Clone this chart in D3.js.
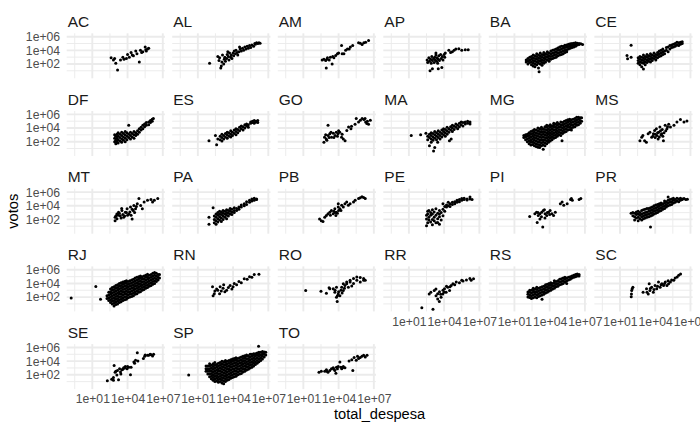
<!DOCTYPE html>
<html>
<head>
<meta charset="utf-8">
<script src="https://cdn.jsdelivr.net/npm/d3@7"></script>
<style>
  body { margin: 0; background: #fff; }
  text { font-family: "Liberation Sans", Arial, Helvetica, sans-serif; }
</style>
</head>
<body>
<svg id="chart" width="700" height="432"></svg>
<script>
// values, as log10 exponents.
// each row: [log10(total_despesa), log10(votos), log10(votos), ...]
const AC = [[2.6,2.9],[2.8,2.6],[2.9,2.8],[3.0,2.1],[3.15,1.1],[3.4,2.6],[3.6,3.0],[3.7,2.7],[3.9,2.8],[4.0,3.4],[4.15,3.0],[4.3,3.7],[4.4,3.3],[4.5,3.2],[4.7,3.9],[4.8,3.5],[5.0,2.3],[5.1,4.0],[5.2,3.7],[5.3,3.8],[5.5,4.5],[5.55,4.1],[5.6,3.9],[5.7,4.2],[5.8,4.3]];
const AL = [[2.0,2.1],[2.7,3.1],[2.8,2.5],[2.85,2.9],[2.95,1.4],[3.0,1.7],[3.05,2.3],[3.1,3.3],[3.2,2.0],[3.25,2.7],[3.3,3.0],[3.35,2.4],[3.45,2.8],[3.5,3.4],[3.55,3.8],[3.6,3.1],[3.65,2.6],[3.7,3.6],[3.8,3.0],[3.85,3.3],[3.9,2.8],[4.0,3.6],[4.05,3.2],[4.1,3.9],[4.2,3.5],[4.25,4.0],[4.35,3.7],[4.4,3.3],[4.5,3.8],[4.55,4.5],[4.6,4.2],[4.7,3.9],[4.8,4.3],[4.9,4.0],[5.0,4.5],[5.1,4.2],[5.2,4.6],[5.3,4.3],[5.4,4.7],[5.5,4.4],[5.6,4.8],[5.75,4.6],[5.85,5.0],[5.9,4.9],[6.0,5.1],[6.1,5.0],[6.2,5.1],[6.3,5.05]];
const AM = [[2.6,2.6],[2.75,2.7],[2.9,2.5],[2.95,1.4],[3.0,2.7],[3.05,2.9],[3.2,2.6],[3.3,3.0],[3.45,2.0],[3.5,3.1],[3.6,2.9],[3.75,3.25],[3.9,3.5],[4.0,3.6],[4.25,4.7],[4.3,3.5],[4.45,3.5],[4.6,4.0],[4.75,4.2],[4.9,4.2],[5.0,4.5],[5.2,4.7],[5.7,5.1],[5.85,5.05],[6.0,4.85],[6.15,5.1],[6.3,5.2],[6.55,5.45]];
const AP = [[2.55,2.6],[2.6,2.2],[2.7,2.9],[2.75,2.4],[2.8,1.0],[2.85,2.7],[2.9,2.1],[2.95,3.1],[3.0,1.3,2.5],[3.1,2.8],[3.15,2.2],[3.2,3.0],[3.25,2.6],[3.3,3.3,3.6],[3.35,2.4],[3.4,2.9],[3.45,2.1],[3.5,1.3,2.7],[3.55,3.2],[3.6,2.5],[3.7,3.4],[3.75,2.8],[3.8,1.5],[3.85,3.1],[3.9,2.6],[4.0,3.4],[4.05,3.0],[4.1,3.6],[4.4,4.0],[4.55,3.7],[4.7,3.8],[4.85,4.0],[5.0,4.2],[5.25,4.25],[5.5,4.0],[5.8,4.1],[6.05,4.1]];
const BA = [[2.0,2.3,2.6],[2.15,2.0,2.4,2.8],[2.3,2.2,2.6,3.0],[2.45,1.9,2.3,2.7,3.1],[2.6,1.7,2.1,2.5,2.9,3.3],[2.75,1.6,2.0,2.4,2.8,3.2],[2.9,1.9,2.3,2.7,3.1,3.5],[3.05,1.4,2.1,2.5,2.9,3.3],[3.1,0.85],[3.2,2.0,2.4,2.8,3.2,3.6],[3.35,1.8,2.2,2.6,3.0,3.4],[3.5,2.1,2.5,2.9,3.3,3.7],[3.65,2.3,2.7,3.1,3.5],[3.8,2.6,3.0,3.4,3.8],[3.95,2.4,2.8,3.2,3.6],[4.1,2.7,3.1,3.5,3.9],[4.25,2.8,3.2,3.6,4.0],[4.4,2.9,3.3,3.7,4.1],[4.55,3.0,3.4,3.8,4.2],[4.7,3.2,3.6,4.0,4.35],[4.85,3.3,3.7,4.1,4.5],[5.0,3.4,3.8,4.2,4.6],[5.15,3.5,3.9,4.3,4.6],[5.3,3.7,4.0,4.4,4.75],[5.45,3.8,4.1,4.5,4.8],[5.6,4.2,4.55,4.9],[5.75,4.3,4.65,4.95],[5.9,4.4,4.7,5.0],[6.05,4.5,4.8,5.05],[6.2,4.6,4.85,5.1],[6.35,4.8,5.05],[6.5,4.85,5.0],[6.65,4.95],[6.8,4.85]];
const CE = [[1.6,3.25],[1.65,2.75],[1.95,3.0,4.75],[2.55,2.1,2.5,2.9],[2.7,1.9,2.3,2.7,3.1],[2.85,1.6,2.2,2.6,3.0],[3.0,1.25,2.1,2.5,2.9,3.3],[3.15,1.9,2.3,2.7,3.1],[3.3,2.2,2.6,3.0,3.4],[3.45,2.4,2.8,3.2],[3.6,2.3,2.7,3.1,3.5],[3.75,2.5,2.9,3.3],[3.9,2.8,3.2,3.6],[4.05,2.6,3.0,3.4],[4.2,2.9,3.3,3.7],[4.35,3.1,3.5,3.9],[4.5,3.2,3.6,4.0],[4.65,3.4,3.8,4.2],[4.8,3.5,3.9],[4.95,4.0,4.4],[5.1,3.8,4.5],[5.25,4.2,4.7],[5.4,4.4,4.8],[5.55,4.5,4.9],[5.7,4.6,5.0],[5.85,4.8,5.2],[6.0,4.7,5.1],[6.15,4.9,5.2],[6.3,5.0,5.25]];
const DF = [[2.9,2.0,2.5,3.0],[3.0,1.7,2.2,2.8],[3.1,2.0,2.5,3.1],[3.2,1.8,2.3,2.8,3.3],[3.35,2.1,2.6,3.1],[3.5,1.9,2.4,2.9,3.4],[3.65,2.2,2.7,3.2],[3.8,2.0,2.5,3.0,3.5],[3.95,2.3,2.8,3.3],[4.1,2.6,3.1,4.4],[4.25,2.4,2.9,3.4],[4.4,2.7,3.2],[4.55,2.5,3.0,3.5],[4.7,2.9,3.3],[4.85,3.1,3.6],[5.0,3.4,3.9],[5.15,3.7,4.1],[5.3,3.9,4.4],[5.45,4.2,4.6],[5.6,4.4,4.8],[5.8,4.5,4.9],[5.95,4.8,5.1],[6.1,5.0,5.3],[6.2,5.4]];
const ES = [[1.95,2.15],[2.5,2.9],[2.6,1.55],[2.7,2.4],[2.9,2.3,2.8],[3.05,2.1,2.6,3.1],[3.2,2.4,2.9],[3.35,2.7,3.2],[3.5,2.5,3.0,3.4],[3.65,2.8,3.3],[3.8,2.7,3.1,3.6],[3.95,2.9,3.4],[4.1,3.2,3.7],[4.25,3.0,3.5,3.9],[4.4,3.3,3.8],[4.55,3.6,4.1],[4.7,3.9,4.3],[4.85,3.7,4.2],[5.0,4.0,4.5],[5.15,4.3,4.6],[5.3,4.1,4.5],[5.5,4.7,4.9],[5.65,4.8,5.0],[5.8,4.7,5.1],[5.95,4.9,5.0],[6.1,4.8,5.1]];
const GO = [[2.75,1.9],[2.8,2.65],[2.9,3.0],[2.95,2.4],[3.0,2.2],[3.1,2.9,4.4],[3.2,2.6],[3.25,3.15],[3.35,3.4],[3.4,2.65],[3.55,3.25],[3.6,2.6],[3.7,2.9],[3.8,3.4],[3.9,2.8],[3.95,3.15],[4.0,3.6],[4.1,3.4],[4.25,2.65],[4.3,3.1],[4.4,2.4],[4.55,2.15],[4.7,3.65],[4.85,4.15],[5.05,3.9],[5.1,4.25],[5.4,4.55],[5.5,5.4],[5.7,4.9],[5.85,5.15],[6.0,5.4],[6.15,5.25],[6.25,5.4],[6.3,4.9],[6.4,4.65],[6.45,5.0],[6.55,4.55],[6.7,5.15]];
const MA = [[1.2,2.9],[2.0,3.0],[2.45,3.25],[2.6,2.3,2.8],[2.75,1.4,2.6,3.1],[2.9,1.9,2.4,2.9,3.3],[3.05,2.2,2.7,3.2],[3.1,0.65],[3.2,1.15,2.5,3.0,3.5],[3.35,2.3,2.8,3.3],[3.45,1.9],[3.5,2.6,3.1,3.6],[3.65,2.4,2.9,3.4],[3.8,2.7,3.2,3.7],[3.95,3.0,3.5,3.9],[4.1,2.8,3.3,3.8],[4.25,3.1,3.6,4.1],[4.4,3.4,3.9],[4.45,2.15],[4.55,3.7,4.2],[4.6,2.4],[4.7,3.5,4.0,4.4],[4.85,3.8,4.3],[5.0,4.1,4.6],[5.15,3.9,4.4],[5.3,4.2,4.7],[5.45,4.5,4.9],[5.6,4.3,4.8],[5.8,4.6,4.9],[6.0,4.7,5.0],[6.2,4.6,4.9]];
const MG = [[1.8,2.6,2.9],[1.95,2.3,2.7,3.0],[2.1,2.0,2.4,2.8,3.1],[2.25,1.7,2.1,2.5,2.9,3.3],[2.4,1.5,1.9,2.3,2.7,3.1,3.5],[2.55,1.6,2.0,2.4,2.8,3.2,3.6],[2.7,1.4,1.8,2.2,2.6,3.0,3.4,3.8],[2.85,1.3,1.7,2.1,2.5,2.9,3.3,3.7],[3.0,1.2,1.6,2.0,2.4,2.8,3.2,3.6,4.0],[3.15,1.15,1.5,1.9,2.3,2.7,3.1,3.5,3.9],[3.3,1.4,1.8,2.2,2.6,3.0,3.4,3.8,4.1],[3.45,0.9,1.5,1.9,2.3,2.7,3.1,3.5,3.9],[3.6,1.4,1.8,2.2,2.6,3.0,3.4,3.8,4.2],[3.75,1.7,2.1,2.5,2.9,3.3,3.7,4.1,4.4],[3.9,1.9,2.3,2.7,3.1,3.5,3.9,4.3],[4.05,2.1,2.5,2.9,3.3,3.7,4.1,4.5],[4.2,2.3,2.7,3.1,3.5,3.9,4.3],[4.35,2.5,2.9,3.3,3.7,4.1,4.5,4.7],[4.5,2.6,3.0,3.4,3.8,4.2,4.6],[4.65,2.8,3.2,3.6,4.0,4.4,4.8],[4.8,3.0,3.4,3.8,4.2,4.6],[4.95,2.9,3.3,3.7,4.1,4.5,4.9],[5.05,2.15],[5.1,3.2,3.6,4.0,4.4,4.8],[5.25,3.4,3.8,4.2,4.6,5.0],[5.4,3.5,3.9,4.3,4.7,5.1],[5.55,3.7,4.1,4.5,4.9,5.2],[5.7,3.8,4.2,4.6,5.0,5.3],[5.85,3.7,4.0,4.4,4.8,5.2],[6.0,4.1,4.5,4.9,5.3],[6.15,4.2,4.6,5.0,5.4],[6.3,4.4,4.8,5.2,5.6],[6.45,4.5,4.9,5.3,5.6],[6.6,4.7,5.1,5.5],[6.72,5.0,5.5]];
const MS = [[2.7,2.15],[2.85,2.65],[2.95,2.9],[3.1,2.15],[3.25,1.9],[3.4,3.15],[3.55,3.4],[3.7,2.65],[3.8,2.8],[3.85,3.15],[3.95,3.65],[4.0,2.6,3.1],[4.1,3.9],[4.15,2.9],[4.2,3.3],[4.25,2.4],[4.3,3.4],[4.35,2.7],[4.4,4.15],[4.45,3.6],[4.5,3.0],[4.55,3.15],[4.6,3.8],[4.65,2.8],[4.7,2.15],[4.75,3.3],[4.85,4.4],[4.9,3.6],[5.0,3.9],[5.05,4.2],[5.15,4.55],[5.3,4.15],[5.6,4.4],[5.85,4.9],[6.15,5.25],[6.45,4.9],[6.7,5.05]];
const MT = [[2.94,1.8,2.3],[3.0,2.5],[3.09,2.8],[3.1,2.1],[3.2,2.6],[3.23,3.05],[3.3,2.9],[3.38,2.55],[3.45,2.2],[3.5,3.6],[3.52,3.3],[3.6,2.7],[3.67,2.3],[3.75,2.5],[3.81,3.05],[3.9,3.0],[3.96,3.55],[4.0,2.6],[4.1,2.8],[4.2,3.1],[4.25,3.8],[4.3,2.6],[4.39,2.05],[4.4,3.5],[4.48,3.3],[4.54,4.05],[4.6,3.0],[4.68,3.55],[4.75,3.9],[4.83,4.3],[4.97,5.05],[5.12,4.05],[5.26,3.55],[5.41,4.55],[5.7,4.8],[5.99,4.9],[6.13,4.55],[6.28,4.8],[6.57,5.05]];
const PA = [[1.95,1.3,2.3],[2.3,3.7],[2.4,1.5,2.0,2.5],[2.55,1.3,1.8,2.3,2.8],[2.7,1.6,2.1,2.6,3.0],[2.85,1.9,2.4,2.8,3.2],[3.0,1.7,2.2,2.7,3.1],[3.15,2.0,2.5,2.9,3.3],[3.3,2.3,2.8,3.2],[3.45,2.1,2.6,3.0,3.4],[3.6,2.5,2.9,3.3],[3.75,2.8,3.2,3.6],[3.9,2.7,3.1,3.5],[4.1,3.0,3.3,3.7],[4.3,3.3,3.6],[4.5,3.5,3.8],[4.7,3.8,4.1],[4.95,4.0,4.3],[5.15,4.2,4.6],[5.4,4.5,4.8],[5.6,4.7,5.0],[5.8,4.8,5.1],[6.0,4.9,5.0]];
const PB = [[2.38,2.06],[2.53,1.8],[2.67,1.7],[2.82,2.3],[2.96,2.56],[3.1,2.81],[3.25,3.05],[3.3,2.6],[3.39,3.31],[3.54,2.81],[3.6,3.2],[3.68,3.56],[3.7,3.0],[3.77,2.56],[3.82,3.05],[3.9,2.9],[3.97,3.81,4.31],[4.0,3.3],[4.11,3.56],[4.2,3.3],[4.26,4.06],[4.4,3.81],[4.54,4.31],[4.69,4.56],[4.83,4.06],[4.98,4.31],[5.27,4.56],[5.41,4.81],[5.7,5.07],[5.84,5.16],[5.99,5.31],[6.13,5.21],[6.27,5.07]];
const PE = [[2.5,1.05,2.05,2.6],[2.6,1.5,2.8,3.2],[2.7,1.9,2.3,3.3],[2.85,1.6,2.6,3.0],[3.0,1.2,2.0,2.8,3.4],[3.15,1.8,2.3,3.1],[3.3,1.5,2.6,3.55],[3.45,1.55,2.1,2.9],[3.6,1.3,2.4,2.8,3.3],[3.75,1.9,3.0],[3.9,2.55,3.5,4.3],[4.05,3.2,3.9],[4.2,3.8,4.1],[4.35,4.0,4.5],[4.5,3.9,4.3],[4.7,4.2,4.5],[4.9,4.3,4.6],[5.1,4.5,4.8],[5.3,4.6,4.9],[5.5,4.8,5.05],[5.7,4.9,5.1],[5.95,4.85,5.0],[6.2,5.0,5.3],[6.38,4.9]];
const PI = [[2.3,2.41],[2.74,2.81],[2.88,3.05],[2.94,1.55],[3.0,3.0],[3.03,2.56],[3.17,2.06,2.81],[3.3,2.4],[3.32,3.05],[3.41,0.9],[3.46,3.31],[3.55,3.4],[3.6,2.2],[3.61,2.81],[3.75,2.56],[3.8,3.0],[3.9,3.05],[4.0,2.7],[4.04,3.31],[4.19,2.81],[4.33,2.56],[4.48,3.05],[4.91,4.31],[5.06,4.56],[5.2,4.06],[5.49,4.31],[5.78,4.92],[5.85,5.05],[5.93,4.81],[6.51,4.92],[6.65,5.07]];
const PR = [[1.95,2.9],[2.1,2.55,3.0],[2.25,1.9,2.4,2.9],[2.4,2.2,2.7,3.1],[2.55,1.8,2.3,2.8,3.2],[2.7,2.1,2.6,3.0],[2.85,1.9,2.4,2.8,3.3],[3.0,2.1,2.5,2.9,3.4],[3.15,2.2,2.6,3.0,3.5],[3.3,2.3,2.7,3.1,3.6],[3.45,2.4,2.8,3.2,3.6],[3.6,0.9,2.5,2.9,3.3,3.7],[3.75,2.6,3.0,3.4,3.8],[3.9,2.8,3.2,3.6,4.0],[4.05,2.9,3.3,3.7,4.1],[4.2,3.0,3.4,3.8,4.2],[4.35,3.2,3.6,4.0,4.3],[4.5,3.3,3.7,4.1,4.4],[4.65,3.5,3.9,4.3],[4.8,3.6,4.0,4.4,4.7],[4.95,3.8,4.2,4.6],[5.1,4.0,4.4,4.8,5.3],[5.25,4.1,4.5,4.9],[5.4,4.2,4.6,5.0],[5.55,4.4,4.8,5.1],[5.7,4.5,4.9],[5.85,4.7,5.1],[6.0,4.6,5.0],[6.15,4.8,5.1],[6.3,4.9,5.0],[6.45,5.05],[6.6,4.9],[6.74,4.95]];
const RJ = [[-0.8,1.85],[1.3,3.55],[1.7,1.7],[2.25,1.8,2.2],[2.4,1.5,1.9,2.3,2.7],[2.55,1.2,1.6,2.0,2.4,2.8,3.2],[2.7,1.0,1.4,1.8,2.2,2.6,3.0,3.4],[2.85,0.7,1.1,1.5,1.9,2.3,2.7,3.1,3.5],[3.0,0.9,1.3,1.7,2.1,2.5,2.9,3.3,3.7],[3.15,1.0,1.4,1.8,2.2,2.6,3.0,3.4,3.8],[3.3,1.2,1.6,2.0,2.4,2.8,3.2,3.6,4.0],[3.45,1.3,1.7,2.1,2.5,2.9,3.3,3.7,4.1],[3.6,1.5,1.9,2.3,2.7,3.1,3.5,3.9,4.2],[3.75,1.6,2.0,2.4,2.8,3.2,3.6,4.0,4.3],[3.9,1.7,2.1,2.5,2.9,3.3,3.7,4.1,4.4],[4.05,1.9,2.3,2.7,3.1,3.5,3.9,4.3],[4.2,2.0,2.4,2.8,3.2,3.6,4.0,4.4],[4.35,2.1,2.5,2.9,3.3,3.7,4.1,4.5],[4.5,2.2,2.6,3.0,3.4,3.8,4.2,4.6],[4.65,2.4,2.8,3.2,3.6,4.0,4.4,4.8],[4.8,2.5,2.9,3.3,3.7,4.1,4.5,4.9],[4.95,2.7,3.1,3.5,3.9,4.3,4.7,5.0],[5.1,2.8,3.2,3.6,4.0,4.4,4.8,5.1],[5.25,3.0,3.4,3.8,4.2,4.6,5.0],[5.4,3.1,3.5,3.9,4.3,4.7,5.1],[5.55,3.3,3.7,4.1,4.5,4.9,5.2],[5.7,3.4,3.8,4.2,4.6,5.0,5.35],[5.85,3.6,4.0,4.4,4.8,5.2],[6.0,3.7,4.1,4.5,4.9,5.3],[6.15,3.9,4.3,4.7,5.1,5.5],[6.3,4.0,4.4,4.8,5.2,5.6],[6.45,4.3,4.7,5.1,5.5],[6.6,4.5,4.9,5.3],[6.72,4.8,5.3]];
const RN = [[2.25,3.5],[2.3,2.2],[2.4,2.5],[2.45,2.9],[2.6,3.2],[2.7,3.0],[2.85,2.5],[2.9,3.5],[3.0,2.9],[3.15,3.3],[3.2,3.8],[3.3,2.8],[3.45,3.0],[3.6,3.4],[3.75,3.7],[3.9,3.2],[4.0,3.5],[4.1,4.0],[4.3,3.8],[4.5,4.3],[4.7,4.1],[4.95,4.7],[5.2,4.6],[5.4,5.0],[5.6,4.9],[5.8,5.3],[6.2,5.35]];
const RO = [[1.2,2.96],[2.5,2.86],[2.96,2.56],[3.19,3.36],[3.25,3.21],[3.54,3.21],[3.68,2.71],[3.7,3.0],[3.82,1.96,3.46],[3.88,1.36],[3.9,2.2],[3.97,2.46],[4.0,2.8],[4.11,2.21],[4.2,3.0],[4.26,3.46],[4.3,2.6],[4.4,2.96,3.97],[4.5,3.3],[4.54,3.71],[4.69,3.97,4.21],[4.83,3.46],[4.98,4.21,4.47],[5.12,3.61],[5.27,4.01,4.72],[5.55,4.47,4.96],[5.84,4.21,4.87],[6.13,4.47,4.72],[6.27,4.47]];
const RR = [[2.1,0.45],[2.73,2.46],[2.87,2.71],[3.05,0.2],[3.16,2.96],[3.3,3.2],[3.31,2.21],[3.45,1.71,2.5],[3.59,1.36],[3.6,2.8],[3.7,2.4],[3.74,1.96],[3.88,2.46],[3.9,3.0],[4.0,2.7],[4.03,3.21],[4.17,2.71],[4.2,3.6],[4.31,3.46],[4.46,2.96],[4.5,3.5],[4.6,3.71],[4.75,3.97],[4.9,3.8],[5.03,4.21],[5.3,4.1],[5.5,4.47],[5.61,4.36],[5.9,4.5],[6.19,4.72],[6.3,4.47],[6.5,4.7]];
const RS = [[2.15,2.0,2.4,2.75],[2.3,1.95,2.3,2.7,3.0],[2.45,1.8,2.2,2.6,3.0],[2.6,1.9,2.3,2.7,3.0,3.3],[2.75,2.0,2.4,2.8,3.2],[2.9,1.9,2.3,2.7,3.1,3.45],[3.05,2.1,2.5,2.9,3.3],[3.2,2.2,2.6,3.0,3.4],[3.35,1.7,2.3,2.7,3.1,3.5],[3.5,2.4,2.8,3.2,3.6],[3.65,2.6,3.0,3.4,3.8],[3.8,2.7,3.1,3.5,3.9],[3.95,2.9,3.3,3.7,4.0],[4.1,3.0,3.4,3.8,4.1],[4.25,3.2,3.6,4.0],[4.4,3.3,3.7,4.1,4.4],[4.55,3.5,3.9,4.3],[4.7,3.6,4.0,4.4],[4.85,3.8,4.2,4.6],[5.0,3.9,4.3,4.7],[5.15,4.0,4.4,4.8],[5.3,4.2,4.6,4.9],[5.45,4.0,4.4,4.8],[5.6,4.5,4.9],[5.75,4.6,5.0],[5.9,4.8,5.1],[6.05,4.9,5.2],[6.2,5.0,5.3],[6.35,5.1,5.4],[6.5,5.1,5.3]];
const SC = [[1.96,2.06],[1.98,2.46],[2.0,2.96],[2.04,3.21],[2.1,3.46],[2.97,2.71],[3.26,3.21],[3.3,2.7],[3.41,2.46],[3.49,3.97],[3.55,2.96],[3.6,3.3],[3.7,3.46],[3.84,2.71],[3.9,3.1],[3.99,3.71],[4.13,3.21],[4.2,3.6],[4.28,4.22],[4.42,3.46],[4.5,3.8],[4.57,3.97],[4.71,3.71],[4.8,4.0],[4.86,4.22],[5.0,3.71],[5.1,4.4],[5.14,3.97],[5.29,4.22],[5.4,4.5],[5.58,4.47],[5.7,4.8],[5.87,4.96],[6.0,5.22],[6.16,5.37]];
const SE = [[2.28,1.11],[2.65,1.36],[2.8,1.61,1.2],[2.86,3.37],[2.94,2.36],[3.0,2.5],[3.09,1.97],[3.14,2.62],[3.23,1.26],[3.32,2.87],[3.4,2.4],[3.43,2.12],[3.52,2.72],[3.6,2.8],[3.67,3.02],[3.75,3.0],[3.81,3.22],[3.96,2.87],[4.0,3.2],[4.1,3.12],[4.25,2.02],[4.3,3.12],[4.54,3.87],[4.6,3.7],[4.68,4.12],[4.83,5.22],[4.88,4.02],[5.35,4.37],[5.46,4.72],[5.5,4.9],[5.7,4.87],[5.8,4.85],[5.93,5.02],[6.0,4.95],[6.13,4.77],[6.22,5.02]];
const SP = [[0.22,1.97],[1.7,2.5,2.9,3.3],[1.85,2.1,2.5,2.9,3.3],[2.0,1.7,2.1,2.5,2.9,3.3,3.6],[2.15,1.4,1.8,2.2,2.6,3.0,3.4],[2.3,1.2,1.6,2.0,2.4,2.8,3.2,3.6],[2.45,1.0,1.4,1.8,2.2,2.6,3.0,3.4,3.8],[2.6,1.1,1.5,1.9,2.3,2.7,3.1,3.5],[2.75,0.9,1.3,1.7,2.1,2.5,2.9,3.3,3.7],[2.9,1.0,1.4,1.8,2.2,2.6,3.0,3.4,3.8],[3.05,0.8,1.2,1.6,2.0,2.4,2.8,3.2,3.6,4.0],[3.2,0.7,1.1,1.5,1.9,2.3,2.7,3.1,3.5,3.9],[3.35,1.0,1.4,1.8,2.2,2.6,3.0,3.4,3.8,4.1],[3.5,1.2,1.6,2.0,2.4,2.8,3.2,3.6,4.0],[3.65,1.3,1.7,2.1,2.5,2.9,3.3,3.7,4.1],[3.8,1.5,1.9,2.3,2.7,3.1,3.5,3.9,4.2],[3.95,1.6,2.0,2.4,2.8,3.2,3.6,4.0,4.3],[4.1,1.7,2.1,2.5,2.9,3.3,3.7,4.1,4.4],[4.25,1.8,2.2,2.6,3.0,3.4,3.8,4.2,4.5],[4.4,2.0,2.4,2.8,3.2,3.6,4.0,4.4],[4.55,2.1,2.5,2.9,3.3,3.7,4.1,4.5],[4.7,2.2,2.6,3.0,3.4,3.8,4.2,4.6],[4.85,2.4,2.8,3.2,3.6,4.0,4.4,4.7],[5.0,2.5,2.9,3.3,3.7,4.1,4.5,4.8],[5.15,2.7,3.1,3.5,3.9,4.3,4.7,4.9],[5.3,2.8,3.2,3.6,4.0,4.4,4.8],[5.45,3.0,3.4,3.8,4.2,4.6,5.0],[5.6,3.1,3.5,3.9,4.3,4.7,5.0],[5.75,3.3,3.7,4.1,4.5,4.9,5.1],[5.9,3.5,3.9,4.3,4.7,5.1],[6.05,3.7,4.1,4.5,4.9,5.2],[6.17,6.2],[6.2,3.9,4.3,4.7,5.1,5.3],[6.35,4.1,4.5,4.9,5.3],[6.5,4.3,4.7,5.1,5.4],[6.65,4.6,5.0,5.35],[6.78,4.9,5.3]];
const TO = [[2.33,2.36],[2.53,2.51],[2.82,2.51],[2.96,2.72],[3.0,2.5],[3.1,2.36],[3.25,2.62],[3.39,2.87],[3.54,3.02],[3.6,2.8],[3.68,2.62],[3.77,2.21],[3.82,3.12],[3.9,2.9],[3.97,3.22],[4.11,3.87],[4.2,3.1],[4.26,2.87],[4.34,3.02],[4.4,3.22],[4.54,3.02],[4.89,4.02],[5.12,4.22],[5.21,2.62],[5.32,4.52],[5.5,4.12],[5.61,4.72],[5.7,4.37],[5.84,4.52],[5.99,4.72],[6.13,4.87],[6.27,4.62],[6.42,4.87]];

const states = ["AC","AL","AM","AP","BA","CE","DF","ES","GO","MA","MG","MS","MT","PA","PB","PE","PI","PR","RJ","RN","RO","RR","RS","SC","SE","SP","TO"];
const byState = {AC,AL,AM,AP,BA,CE,DF,ES,GO,MA,MG,MS,MT,PA,PB,PE,PI,PR,RJ,RN,RO,RR,RS,SC,SE,SP,TO};
const xTicks = [1e1, 1e4, 1e7];
const yTicks = [1e2, 1e4, 1e6];

// layout (ggplot facet_wrap, 6 columns, theme_minimal)
const ncol = 6;
const padLeft = 66.7, padTop = 33.3;
const pw = 98.2, ph = 45, gapX = 7.33, pitchY = 77.7;
const fontStack = "'Liberation Sans', Arial, Helvetica, sans-serif";
const tickFont = 12.2;

const points = {};
states.forEach(s => {
  points[s] = byState[s].flatMap(([dx, ...vs]) => vs.map(v => [10 ** dx, 10 ** v]));
});
const allPoints = states.flatMap(s => points[s]);

// log scale with 5% expansion, like ggplot
function expandLog(ext) {
  const a = Math.log10(ext[0]), b = Math.log10(ext[1]), e = (b - a) * 0.05;
  return [10 ** (a - e), 10 ** (b + e)];
}
const x = d3.scaleLog().domain(expandLog(d3.extent(allPoints, d => d[0]))).range([0, pw]);
const y = d3.scaleLog().domain(expandLog(d3.extent(allPoints, d => d[1]))).range([ph, 0]);

// minor breaks halfway between majors (in log space), plus one below the first
const minor = t => [t[0] / Math.sqrt(t[1] / t[0])].concat(t.slice(0, -1).map((v, i) => Math.sqrt(v * t[i + 1])));
const xMinor = minor(xTicks);
const yMinor = minor(yTicks);

const fmt = v => v.toExponential(0).replace(/e([+-])(\d)$/, "e$10$2");

const svg = d3.select("#chart");
svg.append("rect").attr("width", 700).attr("height", 432).attr("fill", "#fff");

const nrow = Math.ceil(states.length / ncol);

states.forEach((s, i) => {
  const col = i % ncol, row = Math.floor(i / ncol);
  const px = padLeft + col * (pw + gapX), py = padTop + row * pitchY;
  const g = svg.append("g").attr("transform", `translate(${px},${py})`);

  // grid
  g.selectAll(".xmin").data(xMinor.filter(v => x(v) >= 0)).join("line").attr("class", "xmin")
    .attr("x1", d => x(d)).attr("x2", d => x(d)).attr("y1", 0).attr("y2", ph)
    .attr("stroke", "#ebebeb").attr("stroke-width", 0.95);
  g.selectAll(".ymin").data(yMinor.filter(v => y(v) <= ph)).join("line").attr("class", "ymin")
    .attr("y1", d => y(d)).attr("y2", d => y(d)).attr("x1", 0).attr("x2", pw)
    .attr("stroke", "#ebebeb").attr("stroke-width", 0.95);
  g.selectAll(".xmaj").data(xTicks).join("line").attr("class", "xmaj")
    .attr("x1", d => x(d)).attr("x2", d => x(d)).attr("y1", 0).attr("y2", ph)
    .attr("stroke", "#ebebeb").attr("stroke-width", 1.9);
  g.selectAll(".ymaj").data(yTicks).join("line").attr("class", "ymaj")
    .attr("y1", d => y(d)).attr("y2", d => y(d)).attr("x1", 0).attr("x2", pw)
    .attr("stroke", "#ebebeb").attr("stroke-width", 1.9);

  // strip
  g.append("text").attr("x", 1).attr("y", -6.3)
    .attr("font-size", 15.5).attr("fill", "#1a1a1a").text(s);

  // points
  g.selectAll("circle").data(points[s]).join("circle")
    .attr("cx", d => x(d[0])).attr("cy", d => y(d[1]))
    .attr("r", 1.5).attr("fill", "#000");

  // y axis on first column
  if (col === 0) {
    const ax = g.append("g").call(d3.axisLeft(y).tickValues(yTicks).tickFormat(fmt).tickSize(0).tickPadding(6.6));
    ax.select(".domain").remove();
    ax.selectAll("text").attr("font-size", tickFont).attr("fill", "#4d4d4d").attr("font-family", fontStack);
  }
  // x axis under the lowest panel of each column
  if (i + ncol >= states.length) {
    const ax = g.append("g").attr("transform", `translate(0,${ph})`)
      .call(d3.axisBottom(x).tickValues(xTicks).tickFormat(fmt).tickSize(0).tickPadding(5.5));
    ax.select(".domain").remove();
    ax.selectAll("text").attr("font-size", tickFont).attr("fill", "#4d4d4d").attr("font-family", fontStack);
  }
});

const panelsBottom = padTop + (nrow - 1) * pitchY + ph;
const panelsRight = padLeft + ncol * pw + (ncol - 1) * gapX;

svg.append("text")
  .attr("x", (padLeft + panelsRight) / 2).attr("y", 419)
  .attr("text-anchor", "middle").attr("font-size", 14.67).attr("fill", "#000")
  .text("total_despesa");

svg.append("text")
  .attr("transform", `translate(18.3,${(padTop + panelsBottom) / 2}) rotate(-90)`)
  .attr("text-anchor", "middle").attr("font-size", 14.67).attr("fill", "#000")
  .text("votos");
</script>
</body>
</html>
